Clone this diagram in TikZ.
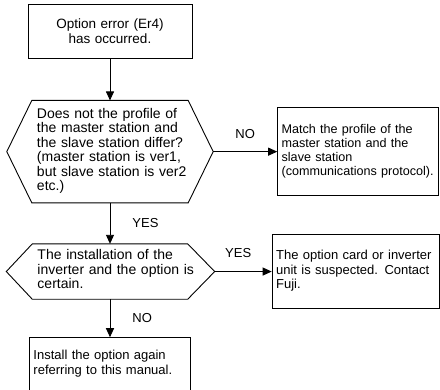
\documentclass[tikz,border=0pt]{standalone}
\usepackage{fontspec}
\setmainfont{Liberation Sans}
\usepackage{tikz}
\usetikzlibrary{positioning,arrows.meta}
\newcommand{\flowfont}{\fontsize{13pt}{14.5pt}\selectfont}
\newcommand{\askfont}{\fontsize{14pt}{14.5pt}\selectfont}
\newcommand{\textlines}[1]{\begin{tabular}{@{}l@{}}#1\end{tabular}}

\begin{document}
\begin{tikzpicture}[
    x=1pt, y=1pt,
    box/.style={draw, line width=0.9pt, inner xsep=4pt, inner ysep=2pt, align=left, font=\flowfont},
    query/.style={inner xsep=5pt, inner ysep=2pt, align=left, font=\askfont},
    hexline/.style={line width=0.9pt, line join=miter},
    arrow/.style={-{Triangle[length=9pt,width=8pt]}, line width=0.9pt},
    answer/.style={font=\flowfont, inner sep=0pt}
]
\useasboundingbox (0,0) rectangle (440,-390);

\node[box, align=center, text width=156pt, minimum height=54pt, font=\fontsize{13.5pt}{15pt}\selectfont] (start) at (110,-31) {Option error (Er4)\\ has occurred.};
\node[query, text width=146pt, minimum height=102pt, below=42pt of start] (profile) {\textlines{Does not the profile of\\ the master station and\\ the slave station differ?\\ (master station is ver1,\\ but slave station is ver2\\ etc.)}};
\node[box, text width=153pt, minimum height=88pt, right=89pt of profile, font=\fontsize{12.6pt}{14pt}\selectfont] (match) {\textlines{Match the profile of the\\ master station and the\\ slave station\\ (communications protocol).}};
\node[query, text width=145pt, minimum height=55pt, below=41pt of profile] (mounting) {\textlines{The installation of the\\ inverter and the option is\\ certain.}};
\node[box, text width=159pt, minimum height=74pt, right=84pt of mounting] (suspect) {\textlines{The option card or inverter\\ unit is suspected. Contact\\ Fuji.}};
\node[box, text width=153pt, minimum height=53pt, below=38pt of mounting] (reinstall) {\textlines{Install the option again\\ referring to this manual.}};

\coordinate (profiletip) at ([xshift=25pt]profile.east);
\coordinate (mountingtip) at ([xshift=27pt]mounting.east);

\draw[hexline] (profile.north west) -- (profile.north east) -- (profiletip) -- (profile.south east) -- (profile.south west) -- ([xshift=-25pt]profile.west) -- cycle;
\draw[hexline] (mounting.north west) -- (mounting.north east) -- (mountingtip) -- (mounting.south east) -- (mounting.south west) -- ([xshift=-26pt]mounting.west) -- cycle;

\draw[arrow] (start) -- (profile);
\draw[arrow] (profiletip) -- node[answer, above=13pt] {NO} (match);
\draw[arrow] (profile) -- node[answer, right=22pt] {YES} (mounting);
\draw[arrow] (mountingtip) -- node[answer, above=13pt, xshift=-5pt] {YES} (suspect);
\draw[arrow] (mounting) -- node[answer, right=22pt] {NO} (reinstall);

\end{tikzpicture}
\end{document}
